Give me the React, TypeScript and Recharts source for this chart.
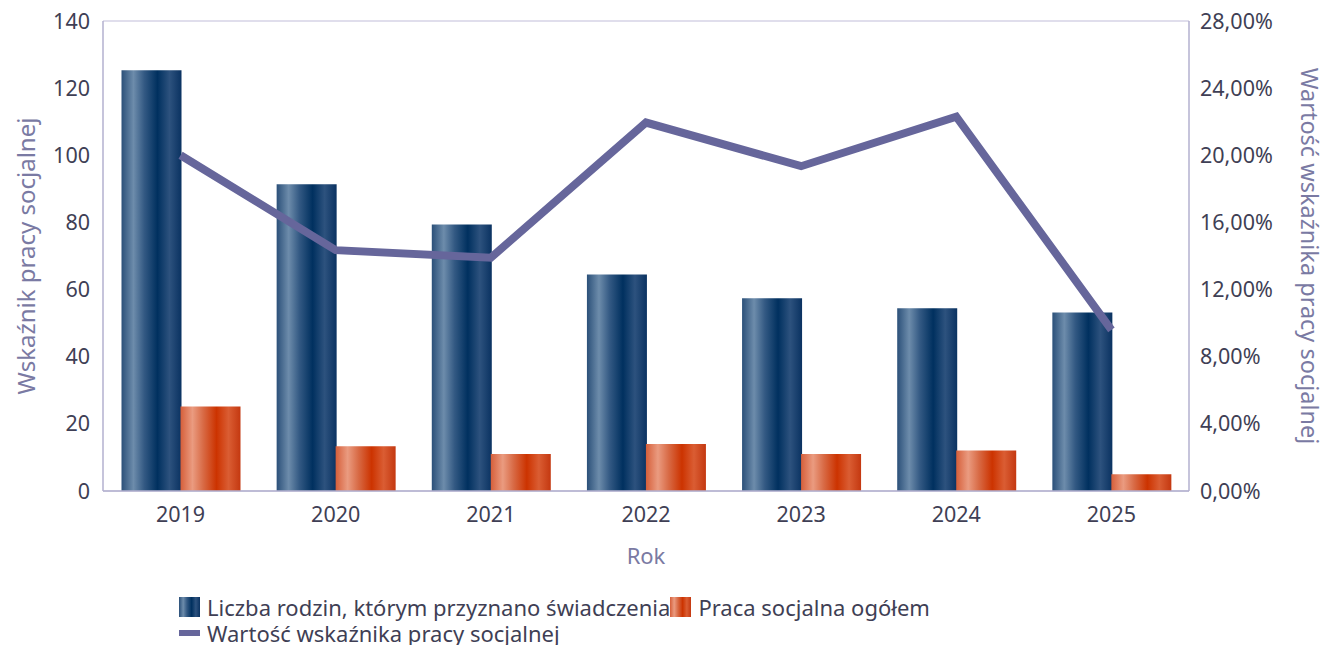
import React from "react"
import { ComposedChart, Bar, Line, XAxis, YAxis, CartesianGrid } from "recharts"

// values
const years = ["2019", "2020", "2021", "2022", "2023", "2024", "2025"]
const families = [125.3, 91.4, 79.4, 64.5, 57.4, 54.4, 53.2]
const socialWork = [25.2, 13.3, 11, 14, 11, 12.1, 5]
const indicator = [20.0, 14.35, 13.9, 21.95, 19.35, 22.3, 9.6]

const leftTicks = [0, 20, 40, 60, 80, 100, 120, 140]
const rightTicks = [0, 4, 8, 12, 16, 20, 24, 28]

const seriesNames = [
  "Liczba rodzin, którym przyznano świadczenia",
  "Praca socjalna ogółem",
  "Wartość wskaźnika pracy socjalnej",
]

const FONT = "'Noto Sans', 'Open Sans', sans-serif"
const TICK_COLOR = "#3f3f55"
const TITLE_COLOR = "#7a7aa3"
const AXIS_COLOR = "#b3b1cf"
const GRID_COLOR = "#d6d3e6"
const LINE_COLOR = "#66669b"

const chartData = years.map((year, i) => ({
  year,
  families: families[i],
  socialWork: socialWork[i],
  indicator: indicator[i],
}))

const fmtPct = (v: number) => v.toFixed(2).replace(".", ",") + "%"

function LeftTitle(props: any) {
  const { viewBox } = props
  const cy = viewBox.y + viewBox.height / 2
  const cx = 25
  return (
    <text x={cx} y={cy} transform={`rotate(-90 ${cx} ${cy})`} textAnchor="middle"
      dominantBaseline="central" fill={TITLE_COLOR} fontSize={24} fontFamily={FONT}>
      Wskaźnik pracy socjalnej
    </text>
  )
}

function RightTitle(props: any) {
  const { viewBox } = props
  const cy = viewBox.y + viewBox.height / 2
  const cx = 1310
  return (
    <text x={cx} y={cy} transform={`rotate(90 ${cx} ${cy})`} textAnchor="middle"
      dominantBaseline="central" fill={TITLE_COLOR} fontSize={23.5} fontFamily={FONT}>
      Wartość wskaźnika pracy socjalnej
    </text>
  )
}

function BottomTitle(props: any) {
  const { viewBox } = props
  return (
    <text x={viewBox.x + viewBox.width / 2} y={555} textAnchor="middle" dominantBaseline="central"
      fill={TITLE_COLOR} fontSize={22} fontFamily={FONT}>
      Rok
    </text>
  )
}

function LegendBox() {
  const item = (swatch: React.ReactNode, label: string) => (
    <div style={{ display: "flex", alignItems: "center" }}>
      {swatch}
      <span style={{ marginLeft: 7 }}>{label}</span>
    </div>
  )
  return (
    <div style={{
      position: "absolute", left: 179, top: 594, width: 800, display: "flex", flexWrap: "wrap",
      fontFamily: FONT, fontSize: 22, color: TICK_COLOR, lineHeight: "26px",
    }}>
      {item(<div style={{ width: 21, height: 20, background: "linear-gradient(to right, #2b5079, #6d8cab 20%, #335983 38%, #00305f 60%, #2d527e 80%, #0a3261)" }} />, seriesNames[0])}
      {item(<div style={{ width: 21, height: 20, background: "linear-gradient(to right, #d65f3a, #ea9b80 20%, #d86a45 38%, #cc3300 60%, #da5d33 80%, #c43810)" }} />, seriesNames[1])}
      <div style={{ width: "100%" }} />
      {item(<div style={{ width: 21, height: 6, background: LINE_COLOR }} />, seriesNames[2])}
    </div>
  )
}

export default function App() {
  return (
    <div style={{ position: "absolute", left: 0, top: 0, width: 1325, height: 645, background: "#fff" }}>
      <ComposedChart
        width={1325}
        height={645}
        data={chartData}
        margin={{ top: 21, right: 0, bottom: 74, left: 0 }}
        barCategoryGap={18.5}
        barGap={-1}
      >
        <defs>
          <linearGradient id="blueGrad" x1="0" y1="0" x2="1" y2="0">
            <stop offset="0%" stopColor="#2b5079" />
            <stop offset="20%" stopColor="#6d8cab" />
            <stop offset="38%" stopColor="#335983" />
            <stop offset="60%" stopColor="#00305f" />
            <stop offset="80%" stopColor="#2d527e" />
            <stop offset="100%" stopColor="#0a3261" />
          </linearGradient>
          <linearGradient id="orangeGrad" x1="0" y1="0" x2="1" y2="0">
            <stop offset="0%" stopColor="#d65f3a" />
            <stop offset="20%" stopColor="#ea9b80" />
            <stop offset="38%" stopColor="#d86a45" />
            <stop offset="60%" stopColor="#cc3300" />
            <stop offset="80%" stopColor="#da5d33" />
            <stop offset="100%" stopColor="#c43810" />
          </linearGradient>
        </defs>
        <CartesianGrid vertical={false} stroke={GRID_COLOR} strokeWidth={1.5} />
        <XAxis
          dataKey="year"
          height={80}
          tickLine={false}
          axisLine={{ stroke: AXIS_COLOR, strokeWidth: 1.5 }}
          tickMargin={10}
          tick={{ fill: TICK_COLOR, fontSize: 21.5, fontFamily: FONT }}
          label={<BottomTitle />}
        />
        <YAxis
          yAxisId="left"
          width={103}
          domain={[0, 140]}
          ticks={leftTicks}
          interval={0}
          tickLine={false}
          axisLine={{ stroke: AXIS_COLOR, strokeWidth: 1.5 }}
          tickMargin={7}
          tick={{ fill: TICK_COLOR, fontSize: 21.5, fontFamily: FONT }}
          label={<LeftTitle />}
        />
        <YAxis
          yAxisId="right"
          orientation="right"
          width={136}
          domain={[0, 28]}
          ticks={rightTicks}
          interval={0}
          tickLine={false}
          axisLine={{ stroke: AXIS_COLOR, strokeWidth: 1.5 }}
          tickMargin={5}
          tickFormatter={fmtPct}
          tick={{ fill: TICK_COLOR, fontSize: 21.5, fontFamily: FONT }}
          label={<RightTitle />}
        />
        <Bar yAxisId="left" dataKey="families" name={seriesNames[0]} fill="url(#blueGrad)" isAnimationActive={false} />
        <Bar yAxisId="left" dataKey="socialWork" name={seriesNames[1]} fill="url(#orangeGrad)" isAnimationActive={false} />
        <Line
          yAxisId="right"
          dataKey="indicator"
          name={seriesNames[2]}
          type="linear"
          stroke={LINE_COLOR}
          strokeWidth={8}
          strokeLinejoin="miter"
          strokeLinecap="butt"
          dot={false}
          activeDot={false}
          isAnimationActive={false}
        />
      </ComposedChart>
      <LegendBox />
    </div>
  )
}
